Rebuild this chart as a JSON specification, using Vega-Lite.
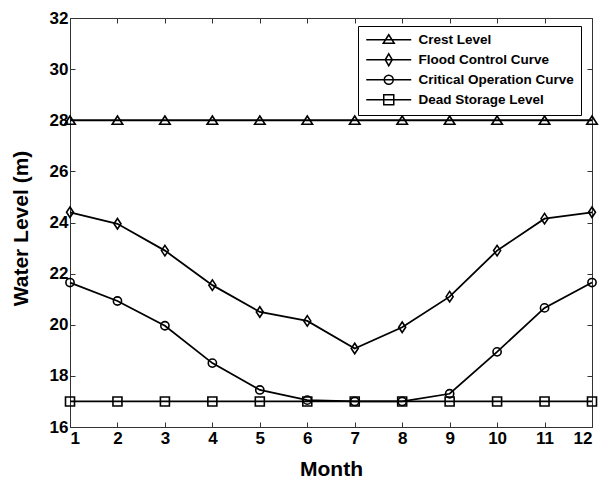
{
  "$schema": "https://vega.github.io/schema/vega-lite/v6.json",
  "width": 522,
  "height": 409,
  "autosize": {"type": "none"},
  "padding": {"left": 70, "top": 18, "right": 13, "bottom": 53},
  "background": "white",
  "config": {
    "view": {"stroke": null},
    "font": "Liberation Sans",
    "axis": {
      "grid": false,
      "domainColor": "#333333",
      "domainWidth": 1,
      "tickColor": "#333333",
      "tickSize": -5,
      "tickWidth": 1,
      "labelFont": "Liberation Sans",
      "labelFontSize": 17,
      "labelFontWeight": "bold",
      "labelColor": "black",
      "titleFont": "Liberation Sans",
      "titleFontSize": 21,
      "titleFontWeight": "bold",
      "titleColor": "black"
    }
  },
  "data": {
    "values": [
      {"month": 1, "series": "Crest Level", "level": 28},
      {"month": 2, "series": "Crest Level", "level": 28},
      {"month": 3, "series": "Crest Level", "level": 28},
      {"month": 4, "series": "Crest Level", "level": 28},
      {"month": 5, "series": "Crest Level", "level": 28},
      {"month": 6, "series": "Crest Level", "level": 28},
      {"month": 7, "series": "Crest Level", "level": 28},
      {"month": 8, "series": "Crest Level", "level": 28},
      {"month": 9, "series": "Crest Level", "level": 28},
      {"month": 10, "series": "Crest Level", "level": 28},
      {"month": 11, "series": "Crest Level", "level": 28},
      {"month": 12, "series": "Crest Level", "level": 28},
      {"month": 1, "series": "Flood Control Curve", "level": 24.4},
      {"month": 2, "series": "Flood Control Curve", "level": 23.95},
      {"month": 3, "series": "Flood Control Curve", "level": 22.9},
      {"month": 4, "series": "Flood Control Curve", "level": 21.55},
      {"month": 5, "series": "Flood Control Curve", "level": 20.5},
      {"month": 6, "series": "Flood Control Curve", "level": 20.15},
      {"month": 7, "series": "Flood Control Curve", "level": 19.07},
      {"month": 8, "series": "Flood Control Curve", "level": 19.9},
      {"month": 9, "series": "Flood Control Curve", "level": 21.1},
      {"month": 10, "series": "Flood Control Curve", "level": 22.9},
      {"month": 11, "series": "Flood Control Curve", "level": 24.15},
      {"month": 12, "series": "Flood Control Curve", "level": 24.4},
      {"month": 1, "series": "Critical Operation Curve", "level": 21.65},
      {"month": 2, "series": "Critical Operation Curve", "level": 20.93},
      {"month": 3, "series": "Critical Operation Curve", "level": 19.96},
      {"month": 4, "series": "Critical Operation Curve", "level": 18.5},
      {"month": 5, "series": "Critical Operation Curve", "level": 17.45},
      {"month": 6, "series": "Critical Operation Curve", "level": 17.05},
      {"month": 7, "series": "Critical Operation Curve", "level": 17.0},
      {"month": 8, "series": "Critical Operation Curve", "level": 17.0},
      {"month": 9, "series": "Critical Operation Curve", "level": 17.3},
      {"month": 10, "series": "Critical Operation Curve", "level": 18.94},
      {"month": 11, "series": "Critical Operation Curve", "level": 20.66},
      {"month": 12, "series": "Critical Operation Curve", "level": 21.65},
      {"month": 1, "series": "Dead Storage Level", "level": 17},
      {"month": 2, "series": "Dead Storage Level", "level": 17},
      {"month": 3, "series": "Dead Storage Level", "level": 17},
      {"month": 4, "series": "Dead Storage Level", "level": 17},
      {"month": 5, "series": "Dead Storage Level", "level": 17},
      {"month": 6, "series": "Dead Storage Level", "level": 17},
      {"month": 7, "series": "Dead Storage Level", "level": 17},
      {"month": 8, "series": "Dead Storage Level", "level": 17},
      {"month": 9, "series": "Dead Storage Level", "level": 17},
      {"month": 10, "series": "Dead Storage Level", "level": 17},
      {"month": 11, "series": "Dead Storage Level", "level": 17},
      {"month": 12, "series": "Dead Storage Level", "level": 17}
    ]
  },
  "layer": [
    {
      "mark": {"type": "line", "color": "black", "strokeWidth": 1.8},
      "encoding": {
        "x": {
          "field": "month", "type": "quantitative",
          "scale": {"domain": [1, 12], "nice": false, "zero": false},
          "axis": {"orient": "bottom", "values": [1,2,3,4,5,6,7,8,9,10,11,12], "title": "Month", "labelPadding": 8, "titleY": 48, "titleBaseline": "alphabetic"}
        },
        "y": {
          "field": "level", "type": "quantitative",
          "scale": {"domain": [16, 32], "nice": false, "zero": false},
          "axis": {"orient": "left", "values": [16,18,20,22,24,26,28,30,32], "title": "Water Level (m)", "labelPadding": 7, "titleX": -49, "titleY": 210, "titleAngle": -90, "titleAlign": "center", "titleBaseline": "middle"}
        },
        "detail": {"field": "series", "type": "nominal"}
      }
    },
    {
      "mark": {"type": "point", "filled": false, "stroke": "black", "strokeWidth": 1.6, "size": 100, "opacity": 1},
      "encoding": {
        "x": {
          "field": "month", "type": "quantitative",
          "axis": {"orient": "top", "values": [1,2,3,4,5,6,7,8,9,10,11,12], "labels": false, "title": null}
        },
        "y": {
          "field": "level", "type": "quantitative",
          "axis": {"orient": "right", "values": [16,18,20,22,24,26,28,30,32], "labels": false, "title": null}
        },
        "shape": {
          "field": "series", "type": "nominal",
          "scale": {
            "domain": ["Crest Level", "Flood Control Curve", "Critical Operation Curve", "Dead Storage Level"],
            "range": [
              "M0,-0.85L1.05,0.8L-1.05,0.8Z",
              "M0,-1.05L0.7,0L0,1.05L-0.7,0Z",
              "M-0.82,0A0.82,0.82 0 1,0 0.82,0A0.82,0.82 0 1,0 -0.82,0Z",
              "M-0.9,-0.9H0.9V0.9H-0.9Z"
            ]
          },
          "legend": null
        }
      }
    },
    {
      "transform": [{"filter": "false"}],
      "mark": {"type": "point", "filled": false, "stroke": "black", "strokeWidth": 1.5, "opacity": 1},
      "encoding": {
        "shape": {
          "field": "series", "type": "nominal",
          "scale": {
            "domain": ["Crest Level", "Flood Control Curve", "Critical Operation Curve", "Dead Storage Level"],
            "range": [
              "M-1,0L7.18,0M3.09,-0.91L4.09,0.64L2.09,0.64Z",
              "M-1,0L7.18,0M3.09,-1.09L3.73,0L3.09,1.09L2.45,0Z",
              "M-1,0L7.18,0M2.27,0A0.82,0.82 0 1,0 3.91,0A0.82,0.82 0 1,0 2.27,0Z",
              "M-1,0L7.18,0M2.18,-0.91H4V0.91H2.18Z"
            ]
          },
          "legend": {
            "orient": "none", "legendX": 288, "legendY": 8, "title": null,
            "strokeColor": "black", "fillColor": "white", "padding": 7, "rowPadding": 3,
            "labelFont": "Liberation Sans", "labelFontSize": 13.5, "labelFontWeight": "bold", "labelColor": "black",
            "labelOffset": 40, "labelLimit": 0, "symbolSize": 121, "symbolStrokeWidth": 1.5,
            "symbolStrokeColor": "black", "symbolFillColor": "transparent"
          }
        }
      }
    }
  ],
  "resolve": {"scale": {"shape": "independent"}, "axis": {"x": "independent", "y": "independent"}}
}
